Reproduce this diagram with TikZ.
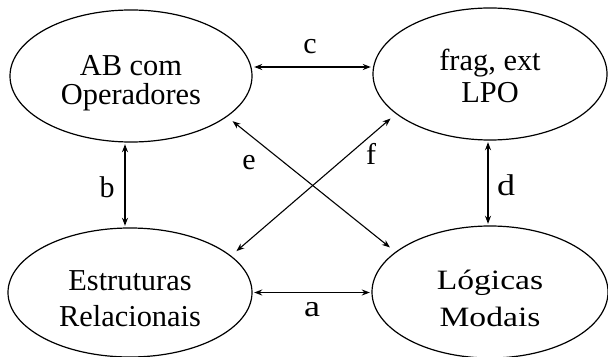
\documentclass[tikz,border=0pt]{standalone}
\usepackage{fontspec}
\setmainfont{Liberation Serif}
\newfontfamily\widefont[FakeStretch=1.2]{Liberation Serif}
\usetikzlibrary{shapes.geometric,arrows.meta}

\begin{document}
\begin{tikzpicture}[x=0.5pt,y=-0.5pt,
  blob/.style={ellipse,draw,line width=0.6pt,inner sep=0pt},
  blobtext/.style={align=center,inner sep=0pt,font=\fontsize{15.2}{#1}\selectfont},
  widetext/.style={align=center,inner sep=0pt,font=\widefont\fontsize{14}{#1}\selectfont},
  biarrow/.style={{Stealth[length=4pt,width=3pt]}-{Stealth[length=4pt,width=3pt]},
    line width=0.55pt,shorten <=0.8pt,shorten >=0.8pt},
  crossarrow/.style={biarrow,shorten <=3.5pt,shorten >=3.5pt},
  lbl/.style={inner sep=0pt,font=\fontsize{15}{15}\selectfont}]

\useasboundingbox (0,0) rectangle (608,357);

% the four families of structures and logics, each text set a little below centre
\node[blob,minimum width=121pt,minimum height=66pt,
  label={[blobtext=14.5pt,yshift=-3.5pt]center:AB com\\Operadores}] (tl) at (131,76) {};
\node[blob,minimum width=117pt,minimum height=66pt,
  label={[blobtext=16pt,yshift=-1pt]center:frag, ext\\LPO}] (tr) at (490,74) {};
\node[blob,minimum width=122pt,minimum height=64.5pt,
  label={[blobtext=18pt,yshift=-3pt]center:Estruturas\\Relacionais}] (bl) at (130,292.5) {};
\node[blob,minimum width=118pt,minimum height=66pt,
  label={[widetext=18.5pt,yshift=-3pt]center:Lógicas\\Modais}] (br) at (490,292) {};

% translations between them
\draw[biarrow] ([yshift=4.5pt]tl.east) -- ([yshift=4.5pt]tl.east -| tr.west);
\draw[biarrow] ([xshift=-3pt]tl.south) -- ([xshift=-3pt]tl.south |- bl.north);
\draw[biarrow] ([xshift=-1pt]tr.south) -- ([xshift=-1pt]tr.south |- br.north);
\draw[biarrow] (bl.east) -- (bl.east -| br.west);
\draw[crossarrow] (tl.-23) -- (br.157);
\draw[crossarrow] (bl.20) -- (tr.-157);

% arrow labels
\node[lbl] (la) at (312,310) {\widefont a};
\node[lbl] (lb) at (107,187) {b};
\node[lbl] (lc) at (310,47) {c};
\node[lbl] (ld) at (506,185) {\widefont d};
\node[lbl] (le) at (249,163) {e};
\node[lbl] (lf) at (371,154) {f};
\end{tikzpicture}
\end{document}
